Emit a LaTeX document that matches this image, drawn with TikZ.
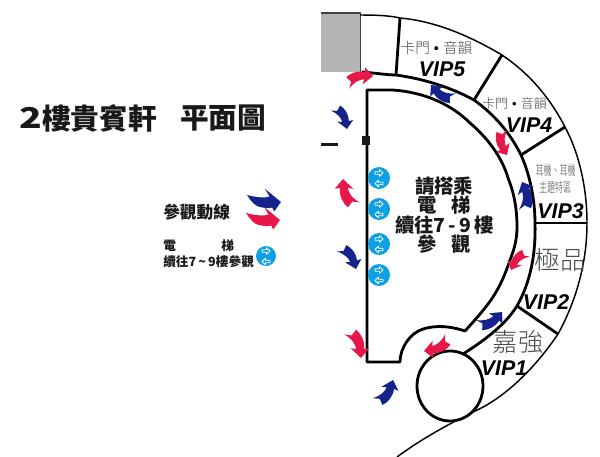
\documentclass[tikz,border=0pt]{standalone}
\usepackage{fontspec}
\setmainfont{Liberation Sans}
\newfontfamily\cjk{Noto Sans CJK TC}[BoldFont={Noto Sans CJK TC Black}]
\newfontfamily\cjklight{Noto Sans CJK TC Light}
\newfontfamily\vipfont{Liberation Sans}[BoldItalicFont={Liberation Sans Bold Italic}]
\definecolor{flowred}{HTML}{E8174A}
\definecolor{flowblue}{HTML}{17238C}
\definecolor{liftblue}{HTML}{0F9FE3}
\definecolor{roomgrey}{HTML}{B5B5B5}
\definecolor{lighttext}{HTML}{4A4A4A}
\tikzset{
  wall/.style={line width=2.1pt,line join=round},
  outerwall/.style={line width=1.1pt},
  vip/.style={font=\vipfont\fontsize{16}{16}\selectfont\bfseries\itshape,text=black,inner sep=0pt},
  heavy/.style={inner sep=0pt,text=black!90},
  thin/.style={inner sep=0pt,text=lighttext},
  titlefont/.style={font=\cjk\bfseries\fontsize{21.5}{21.5}\selectfont},
  hallfont/.style={font=\cjk\bfseries\fontsize{14.5}{14.5}\selectfont},
  legfont/.style={font=\cjk\bfseries\fontsize{9.5}{9.5}\selectfont},
}
\def\planshape{(0,-5) .. controls (6,-9) and (16,-11) .. (25,-7) -- (26,-13) -- (34,0) -- (19,8) -- (22,2)
  .. controls (16,1) and (9,3) .. (1,10) -- (5,2) -- cycle}
\def\legendshape{(0,0) .. controls (6,-6) and (10,-9) .. (15,-9) .. controls (20,-9) and (24,-8.5) .. (26.7,-7)
  -- (29.3,-10.5) -- (34,0) -- (16,9.5) -- (22,3) .. controls (18,0.5) and (10,-0.5) .. (0,0) -- cycle}
% #1 colour, #2,#3 tail px, #4,#5 tip px, #6 mirror, #7 shape
\newcommand{\flowarrow}[7]{%
  \pgfmathsetmacro\fdx{(#4-#2)*.75/34}%
  \pgfmathsetmacro\fdy{(#5-#3)*.75/34}%
  \begin{scope}[shift={(#2*.75pt,-#3*.75pt)},x={(\fdx pt,-\fdy pt)},y={(#6*\fdy pt,#6*\fdx pt)}]
    \fill[#1] #7;
  \end{scope}}
\newcommand{\liftmark}[3]{% x y radius (px)
  \fill[liftblue] (#1,#2) circle (#3);
  \begin{scope}[shift={(#1*.75pt,-#2*.75pt)}]
    \draw[white,fill=liftblue,line width=.65pt,line join=round] (-4,-6.2) -- (0.5,-6.2) -- (0.5,-8.3) -- (4,-5) -- (0.5,-1.7) -- (0.5,-3.8) -- (-4,-3.8) -- cycle;
    \draw[white,fill=liftblue,line width=.65pt,line join=round] (4,6.7) -- (-0.5,6.7) -- (-0.5,8.8) -- (-4,5.5) -- (-0.5,2.2) -- (-0.5,4.3) -- (4,4.3) -- cycle;
  \end{scope}}
\begin{document}
\begin{tikzpicture}[x=.75pt,y=-.75pt]
\useasboundingbox (0,0) rectangle (600,457);
\fill[white] (0,0) rectangle (600,457);
% grey room
\fill[roomgrey] (321,13) rectangle (360,72);
\draw[black!75,line width=.8pt] (321,13) -- (360.5,13) -- (360.5,72);
% outer wall
\draw[outerwall] (360,15) .. controls (380,15) and (392,16) .. (400,18)
  .. controls (435,21) and (470,36) .. (502,55)
  .. controls (530,74) and (550,98) .. (565,127)
  .. controls (580,155) and (587,190) .. (587,223)
  .. controls (587,265) and (575,303) .. (558,334)
  .. controls (535,368) and (505,398) .. (473,412)
  .. controls (445,426) and (420,440) .. (397,457);
% corridor outer wall
\draw[wall] (362,72) .. controls (375,73) and (388,75) .. (396,75)
  .. controls (425,79) and (452,88) .. (474,100)
  .. controls (495,115) and (510,133) .. (521,155)
  .. controls (530,175) and (535,200) .. (535,223)
  .. controls (536,255) and (530,283) .. (517,306)
  .. controls (505,325) and (485,340) .. (463,354);
% inner hall
\draw[wall] (367,362) -- (367,90) -- (392,90)
  .. controls (425,92) and (452,105) .. (470,123)
  .. controls (490,140) and (503,160) .. (508,178)
  .. controls (515,195) and (517,212) .. (517,227)
  .. controls (517,240) and (514,250) .. (510,260)
  .. controls (505,275) and (500,286) .. (493,297)
  .. controls (485,309) and (475,320) .. (465,331)
  .. controls (450,326) and (436,325) .. (423,329)
  .. controls (410,333) and (400,348) .. (400,362) -- cycle;
% booth separators
\draw[wall] (400,18) -- (396,75);
\draw[wall] (502,55) -- (474,100);
\draw[wall] (565,127) -- (521,155);
\draw[wall] (535,223) -- (587,223);
\draw[wall] (517,306) -- (558,334);
% pillar circle
\draw[wall,fill=white] (450,386) ellipse (33 and 35);
% wall marks
\fill[black!90] (362,136) rectangle (370,145);
\fill[black!90] (321,142.5) rectangle (338,146);
% lifts
\liftmark{379}{178}{11}
\liftmark{379}{209}{11}
\liftmark{379}{244}{11}
\liftmark{379}{275}{11}
\liftmark{266}{256}{10}
% flow arrows
\flowarrow{flowred}{347}{81}{373}{76}{-1}{\planshape}
\flowarrow{flowblue}{452}{100}{431}{85}{-1}{\planshape}
\flowarrow{flowblue}{337}{107}{347}{129}{-1}{\planshape}
\flowarrow{flowred}{500}{131}{507}{155}{1}{\planshape}
\flowarrow{flowblue}{527}{209}{522}{182}{1}{\planshape}
\flowarrow{flowred}{352}{206}{343}{179}{-1}{\planshape}
\flowarrow{flowred}{525}{252}{511}{270}{1}{\planshape}
\flowarrow{flowblue}{343}{247}{356}{269}{-1}{\planshape}
\flowarrow{flowblue}{480}{327}{502}{312}{1}{\planshape}
\flowarrow{flowred}{449}{341}{424}{351}{-1}{\planshape}
\flowarrow{flowred}{352}{331}{361}{358}{-1}{\planshape}
\flowarrow{flowblue}{379}{403}{393}{380}{1}{\planshape}
\flowarrow{flowblue}{247}{195}{281}{202}{1}{\legendshape}
\flowarrow{flowred}{246}{213}{280}{220}{1}{\legendshape}
% title
\node[heavy,titlefont,anchor=west,xscale=1.3] (title0) at (19,118) {2};
\node[heavy,titlefont,anchor=west] (title1) at (42,118) {樓貴賓軒};
\node[heavy,titlefont,anchor=west] (title2) at (180,118) {平面圖};
% legend
\node[heavy,anchor=west,font=\cjk\bfseries\fontsize{12.5}{12.5}\selectfont] (legflow) at (163,212) {參觀動線};
\node[heavy,legfont,anchor=west] (leglift1) at (163,246) {電};
\node[heavy,legfont,anchor=west] (leglift2) at (221,246) {梯};
\node[heavy,legfont,anchor=west] (leglift3) at (163,262) {續往7\,\textasciitilde\,9樓參觀};
% centre text
\node[heavy,hallfont] (c1) at (444,186) {請搭乘};
\node[heavy,hallfont] (c2a) at (427,205) {電};
\node[heavy,hallfont] (c2b) at (461,205) {梯};
\node[heavy,hallfont] (c3) at (444.5,225) {續往7\,-\,9\,樓};
\node[heavy,hallfont] (c4a) at (427,244) {參};
\node[heavy,hallfont] (c4b) at (461,244) {觀};
% booth labels
\node[thin,font=\cjklight\fontsize{11}{11}\selectfont] (b5) at (436.5,48) {卡門\hspace{3pt}{\color{black}\vipfont •}\hspace{3pt}音韻};
\node[vip] (v5) at (442,69) {VIP5};
\node[thin,font=\cjklight\fontsize{9.75}{9.75}\selectfont] (b4) at (514.5,104) {卡門\hspace{3pt}{\color{black}\vipfont •}\hspace{3pt}音韻};
\node[vip] (v4) at (529,125) {VIP4};
\node[thin,font=\cjklight\fontsize{10}{10}\selectfont,xscale=.6] (b3a) at (555.5,170) {耳機、耳機};
\node[thin,font=\cjklight\fontsize{10}{10}\selectfont,xscale=.6] (b3b) at (555,187) {主題特區};
\node[vip] (v3) at (560.5,211) {VIP3};
\node[thin,font=\cjklight\fontsize{19}{19}\selectfont] (b2) at (560,260) {極品};
\node[vip] (v2) at (546,302) {VIP2};
\node[thin,font=\cjklight\fontsize{19}{19}\selectfont] (b1) at (518,342) {嘉強};
\node[vip] (v1) at (504,368) {VIP1};
\end{tikzpicture}
\end{document}
